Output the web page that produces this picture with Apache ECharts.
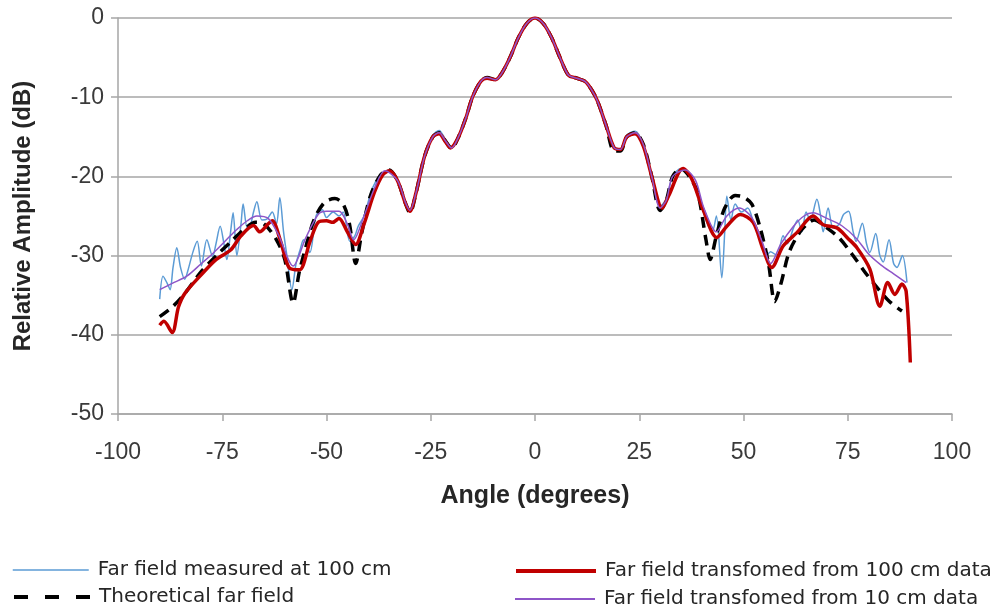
<!DOCTYPE html>
<html>
<head>
<meta charset="utf-8">
<script src="https://cdn.jsdelivr.net/npm/echarts@6/dist/echarts.min.js"></script>
<style>
  html, body { margin: 0; padding: 0; background: #fff; }
  #chart { width: 995px; height: 608px; }
</style>
</head>
<body>
<div id="chart"></div>
<script>
// angle (deg), relative amplitude (dB)
const measured100 = [
  [-90, -35.5], [-89.2, -32.6], [-88.2, -33.5], [-87.5, -34.3], [-86.8, -31.5], [-85.9, -29],
  [-85, -31.5], [-84, -33], [-83.3, -32], [-82, -29.5], [-81, -28.2], [-80, -31.3],
  [-78.7, -28], [-77.3, -30.1], [-76.5, -28.5], [-75.5, -26.3], [-74.6, -28.5], [-73.9, -30.5],
  [-73, -27], [-72.4, -24.6], [-71.5, -30], [-70.5, -26], [-70, -23.5], [-69, -26.5],
  [-68.3, -26.3], [-67.5, -24.5], [-66.7, -23.2], [-65.5, -25.5], [-64.3, -25.4], [-63, -24.5],
  [-62, -26], [-61.2, -22.7], [-60.3, -27], [-59.5, -30], [-58.3, -34.3], [-57.3, -31],
  [-56.4, -29.4], [-55.5, -28], [-54, -29.6], [-52.5, -25], [-51, -24.2], [-50, -25.2],
  [-48.4, -24.5], [-47, -25], [-46, -24.5], [-44.4, -28.2], [-43.2, -27.5], [-42.4, -26.3],
  [-41, -25], [-39, -21.5], [-37, -19.8], [-35, -19.2], [-33, -20.5], [-31, -23.3],
  [-30, -24.2], [-28.5, -21.8], [-26.5, -17.2], [-24.5, -14.8], [-23, -14.2], [-21.5, -15.3],
  [-20, -16.3], [-18.5, -15], [-16.5, -12.5], [-15, -10], [-13, -8], [-11.5, -7.5],
  [-9.5, -7.8], [-8, -7], [-6, -5], [-4, -2.5], [-2, -0.7], [0, 0],
  [2, -0.7], [4, -2.5], [6, -5], [8, -7.2], [10, -7.6], [12, -8],
  [13.5, -9], [15, -10.5], [17, -13.5], [19, -16.3], [20.5, -16.5], [22, -14.8],
  [24, -14.3], [26, -16], [28, -20], [30, -23.8], [31.5, -22.8], [33, -20],
  [35, -19], [37, -20], [39, -22], [41, -25.5], [42.5, -27], [43.5, -25],
  [44.8, -32.8], [45.5, -27], [46, -22.5], [47, -25.5], [48, -23.5], [49.5, -24.5],
  [51, -24], [52.5, -26], [54, -28], [55.5, -30], [56.5, -29.5], [58, -30],
  [59.5, -27.5], [60.5, -28.5], [62, -26.5], [63, -25.5], [64, -27], [65, -24.5],
  [66, -25.5], [67.6, -22.9], [68.5, -25], [69.1, -27], [70.3, -24], [71.5, -26.5],
  [73, -26], [74, -24.8], [75.2, -24.4], [76.3, -27], [77, -28.2], [78.5, -25.9],
  [79.5, -28.5], [80.3, -29.6], [81.7, -27.2], [82.7, -30], [83.5, -30.8], [84.9, -28],
  [86, -31], [86.8, -31.5], [88.1, -30], [89.2, -33.4]
];

const theoretical = [
  [-90, -37.7], [-87, -36.5], [-84, -34.8], [-80, -32], [-76, -29.8], [-73, -28.3],
  [-70, -26.8], [-67, -25.8], [-65, -26], [-62, -28], [-60, -30.5], [-58, -36],
  [-56.5, -32], [-55, -29], [-53, -25.5], [-50.5, -23.3], [-48, -22.8], [-46, -23.5],
  [-44.5, -26], [-43, -31], [-41.5, -27], [-39.5, -22.5], [-37, -19.8], [-35, -19.2],
  [-33, -20.5], [-31, -23.5], [-30, -24.6], [-28.5, -22], [-26.5, -17.5], [-24.5, -15],
  [-23, -14.5], [-21.5, -15.5], [-20, -16.5], [-18.5, -15.2], [-16.5, -12.5], [-15, -10],
  [-13, -8], [-11.5, -7.5], [-9.5, -7.8], [-8, -7], [-6, -5], [-4, -2.5],
  [-2, -0.7], [0, 0], [2, -0.7], [4, -2.5], [6, -5], [8, -7.2],
  [10, -7.6], [12, -8], [13.5, -9], [15, -10.5], [17, -13.5], [19, -16.8],
  [20.5, -16.8], [22, -15], [24, -14.5], [26, -16], [28, -20], [30, -24.3],
  [31.5, -23], [33, -20], [35, -19], [37, -20], [39, -22], [41, -28],
  [42, -30.5], [43.5, -27.5], [45.5, -24], [48, -22.4], [50, -22.6], [52, -23.5],
  [54, -26.5], [56, -31], [57.5, -35.8], [59, -33.5], [61, -29.5], [64, -26.7],
  [67, -25.5], [70, -26.5], [73, -27.8], [76, -29.8], [79, -32], [82, -34],
  [85, -35.8], [88, -37]
];

const transformed100 = [
  [-90, -38.8], [-89, -38.3], [-87, -39.7], [-85.5, -36.5], [-84, -34.8], [-80, -32.4],
  [-76.5, -30.5], [-73, -29.3], [-70.5, -27.5], [-67.5, -26.2], [-66, -27], [-64, -26],
  [-63, -25.6], [-61, -28.2], [-59, -31.5], [-56.5, -31.8], [-54, -28.3], [-52, -25.8],
  [-50, -25.6], [-48.5, -25.8], [-47, -25.3], [-45, -27], [-43, -28.6], [-41, -26],
  [-38.5, -22], [-36.5, -19.8], [-35, -19.3], [-33, -20.5], [-31, -23.5], [-30, -24.4],
  [-28.5, -22], [-26.5, -17.5], [-24.5, -15], [-23, -14.6], [-21.5, -15.6], [-20.3, -16.4],
  [-18.5, -15.2], [-16.5, -12.5], [-15, -10], [-13, -8], [-11.5, -7.6], [-9.5, -7.8],
  [-8, -7], [-6, -5], [-4, -2.5], [-2, -0.7], [0, 0], [2, -0.7],
  [4, -2.5], [6, -5], [8, -7.2], [10, -7.6], [12, -8], [13.5, -9],
  [15, -10.5], [17, -13.5], [19, -16.4], [20.5, -16.6], [22, -15], [24, -14.6],
  [26, -16.2], [28, -20], [30.5, -24], [32, -22.5], [35.5, -19], [37.5, -20.2],
  [40.3, -24.2], [43.6, -27.7], [46, -26.3], [49.2, -24.8], [52.3, -25.8], [54.7, -29.2],
  [56.8, -31.5], [59.5, -28.8], [62.8, -27.1], [66.7, -25], [69.1, -26.1], [72.4, -26.5],
  [75, -27.8], [77.2, -29], [80.3, -31.7], [82.7, -36.4], [84.6, -33.4], [86.3, -34.9],
  [88, -33.6], [89, -34.5], [90, -43.5]
];

const transformed10 = [
  [-90, -34.3], [-87, -33.5], [-83.5, -32.6], [-80, -31], [-77, -29.6], [-74, -28],
  [-71.5, -26.7], [-69, -25.6], [-66.7, -25], [-64, -25.3], [-61.5, -27.4], [-58, -31.3],
  [-55, -27.8], [-52, -24.8], [-50, -24.4], [-47, -24.4], [-45, -26], [-43.5, -28],
  [-41, -25], [-38.5, -21.5], [-36, -19.3], [-33, -20.5], [-31, -23.4], [-30, -24.3],
  [-28.5, -22], [-26.5, -17.5], [-24.5, -15], [-23, -14.5], [-21.5, -15.5], [-20, -16.4],
  [-18.5, -15.2], [-16.5, -12.5], [-15, -10], [-13, -8], [-11.5, -7.5], [-9.5, -7.8],
  [-8, -7], [-6, -5], [-4, -2.5], [-2, -0.7], [0, 0], [2, -0.7],
  [4, -2.5], [6, -5], [8, -7.2], [10, -7.6], [12, -8], [13.5, -9],
  [15, -10.5], [17, -13.5], [19, -16.4], [20.5, -16.6], [22, -15], [24, -14.5],
  [26, -16], [28, -20], [30, -24], [31.5, -23], [33, -20], [36, -19.2],
  [38.5, -20.5], [40.5, -24], [43.5, -27], [46, -25], [49, -24], [52, -25.2],
  [54.5, -28.3], [56.5, -31], [59, -28.5], [62, -26.3], [64.5, -25], [66.7, -24.6],
  [70, -25.3], [73.5, -26.2], [77, -27.8], [80, -29.8], [83, -31.2], [86, -32.3],
  [89, -33.4]
];

const seriesNames = [
  "Far field measured at 100 cm",
  "Theoretical far field",
  "Far field transfomed from 100 cm data",
  "Far field transfomed from 10 cm data",
];

const xTicks = [-100, 100, 25];
const yTicks = [-50, 0, 10];

var myChart = echarts.init(document.getElementById("chart"));

const axisGray = "#a6a6a6";
const labelColor = "#3a3a3a";
const font = "Liberation Sans, Arial, sans-serif";
const legendFont = "DejaVu Sans, sans-serif";

// one legend box per entry so the 2x2 layout is fixed
function legendBox(name, left, top, width, lineStyle) {
  return {
    left: left,
    top: top,
    padding: 0,
    itemWidth: width,
    itemHeight: 14,
    data: [name],
    itemStyle: { opacity: 0 },
    lineStyle: lineStyle,
    textStyle: {
      color: "#262626",
      fontSize: 20,
      fontFamily: legendFont,
      padding: [0, 0, 0, 4],
    },
  };
}

var option = {
  animation: false,
  backgroundColor: "#fff",
  textStyle: { fontFamily: font },
  grid: { left: 118, right: 43, top: 18, bottom: 194 },
  xAxis: {
    type: "value",
    min: xTicks[0],
    max: xTicks[1],
    interval: xTicks[2],
    name: "Angle (degrees)",
    nameLocation: "middle",
    nameGap: 70,
    nameTextStyle: { color: "#262626", fontSize: 25, fontWeight: "bold", fontFamily: font },
    axisLine: { onZero: false, lineStyle: { color: axisGray, width: 1.5 } },
    axisTick: { length: 7, lineStyle: { color: axisGray, width: 1.5 } },
    axisLabel: { color: labelColor, fontSize: 23, margin: 27, fontFamily: font },
    splitLine: { show: false },
  },
  yAxis: {
    type: "value",
    min: yTicks[0],
    max: yTicks[1],
    interval: yTicks[2],
    name: "Relative Amplitude (dB)",
    nameLocation: "middle",
    nameGap: 83,
    nameTextStyle: { color: "#262626", fontSize: 24, fontWeight: "bold", fontFamily: font },
    axisLine: { show: true, onZero: false, lineStyle: { color: axisGray, width: 1.5 } },
    axisTick: { show: true, length: 7, lineStyle: { color: axisGray, width: 1.5 } },
    axisLabel: { color: labelColor, fontSize: 23, margin: 14, fontFamily: font },
    splitLine: { lineStyle: { color: axisGray, width: 1.5 } },
  },
  legend: [
    legendBox(seriesNames[0], 12, 560, 76, { width: 1.5 }),
    legendBox(seriesNames[1], 12, 587, 76, { width: 4, type: [14, 17] }),
    legendBox(seriesNames[2], 514, 561, 80, { width: 4 }),
    legendBox(seriesNames[3], 514, 589, 80, { width: 2 }),
  ],
  series: [
    {
      name: seriesNames[0],
      type: "line",
      data: measured100,
      symbol: "none",
      smooth: 0.3,
      lineStyle: { color: "#5b9bd5", width: 1.5 },
      itemStyle: { color: "#5b9bd5" },
    },
    {
      name: seriesNames[1],
      type: "line",
      data: theoretical,
      symbol: "none",
      smooth: 0.3,
      lineStyle: { color: "#000", width: 3.5, type: [11, 7] },
      itemStyle: { color: "#000" },
    },
    {
      name: seriesNames[2],
      type: "line",
      data: transformed100,
      symbol: "none",
      smooth: 0.3,
      lineStyle: { color: "#c00000", width: 3.5 },
      itemStyle: { color: "#c00000" },
    },
    {
      name: seriesNames[3],
      type: "line",
      data: transformed10,
      symbol: "none",
      smooth: 0.3,
      lineStyle: { color: "#8e55c8", width: 1.5 },
      itemStyle: { color: "#8e55c8" },
    },
  ],
};

myChart.setOption(option);
</script>
</body>
</html>
